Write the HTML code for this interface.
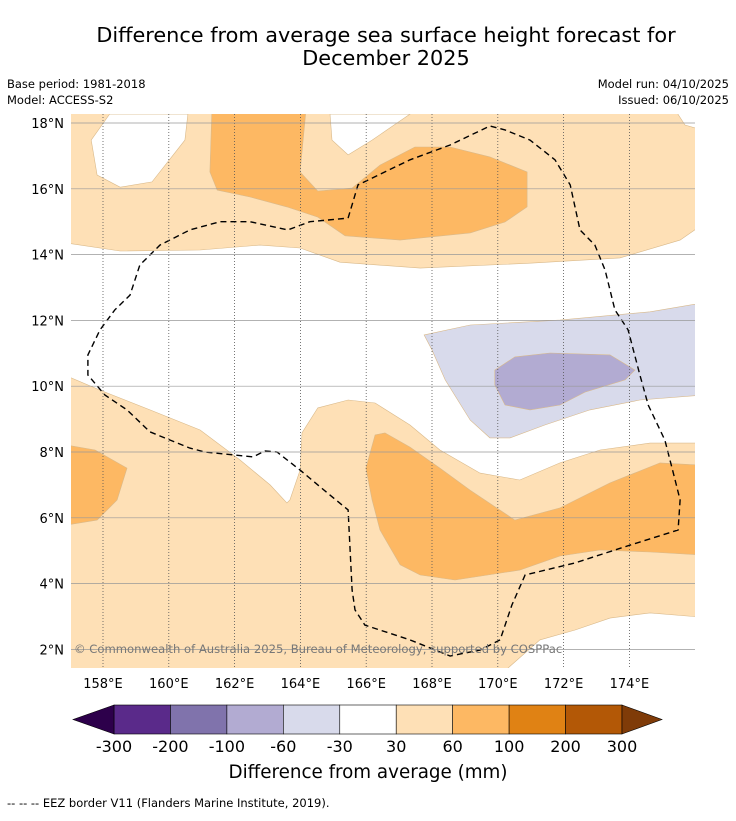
<!DOCTYPE html>
<html><head><meta charset="utf-8"><style>
body{margin:0;background:#fff;font-family:"Liberation Sans","DejaVu Sans",sans-serif;}
svg text{font-family:"DejaVu Sans","Liberation Sans",sans-serif;}
</style></head><body>
<svg id="chart" width="736" height="816" viewBox="0 0 736 816" xmlns="http://www.w3.org/2000/svg">
<rect width="736" height="816" fill="#fff"/>
<text x="386" y="42" font-size="20.8" text-anchor="middle">Difference from average sea surface height forecast for</text>
<text x="386" y="65" font-size="20.8" text-anchor="middle">December 2025</text>
<text x="7" y="88" font-size="11.5">Base period: 1981-2018</text>
<text x="7" y="104" font-size="11.5">Model: ACCESS-S2</text>
<text x="729" y="88" font-size="11.5" text-anchor="end">Model run: 04/10/2025</text>
<text x="729" y="104" font-size="11.5" text-anchor="end">Issued: 06/10/2025</text>
<defs><clipPath id="mapclip"><rect x="71" y="114" width="624" height="554"/></clipPath></defs>
<g id="map" clip-path="url(#mapclip)"></g>
<g id="grid"></g>
<g id="axes"></g>
<text x="74" y="653" font-size="11.6" fill="#777">© Commonwealth of Australia 2025, Bureau of Meteorology, supported by COSPPac</text>
<g id="cbar"></g>
<text x="368" y="778" font-size="18.3" text-anchor="middle">Difference from average (mm)</text>
<text x="7" y="807" font-size="11.5">--  --  -- EEZ border V11 (Flanders Marine Institute, 2019).</text>
</svg>
<script>
const NS="http://www.w3.org/2000/svg";
const lonTicks=[158,160,162,164,166,168,170,172,174];
const latTicks=[2,4,6,8,10,12,14,16,18];
const cbLevels=[-300,-200,-100,-60,-30,30,60,100,200,300];
const cbColors=["#5a2a8a","#8073ac","#b2abd2","#d8daeb","#ffffff","#fee0b6","#fdb863","#e08214","#b35806"];
const white1Lon=[158.2,157.64,157.82,158.52,159.49,160.49,160.58];
const white1Lat=[18.27,17.48,16.42,16.05,16.21,17.48,18.27];
const white2Lon=[164.9,164.96,165.45,166.18,167.33];
const white2Lat=[18.27,17.48,17.03,17.48,18.27];
const white3Lon=[175.39,176.2,176.2,175.69];
const white3Lat=[18.4,18.4,17.79,17.94];
const whiteMidLon=[156.9,158.52,160.95,162.77,163.99,165.2,167.64,170.98,173.71,175.54,176.2,176.2,174.63,173.11,171.89,170.67,169.46,168.24,167.33,166.27,165.45,164.53,164.05,163.99,163.68,163.59,163.08,162.16,160.95,159.43,157.91,156.9];
const whiteMidLat=[14.35,14.11,14.14,14.29,14.2,13.77,13.59,13.74,13.9,14.44,14.9,8.27,8.27,8.06,7.67,7.15,7.36,8.06,8.82,9.49,9.58,9.34,8.58,7.45,6.54,6.45,7.0,7.76,8.67,9.28,9.88,10.31];
const whiteBotLon=[170.16,171.28,172.35,173.41,174.63,176.2,176.2];
const whiteBotLat=[1.3,2.29,2.59,2.95,3.11,2.98,1.3];
const darkTopLon=[161.31,164.17,163.99,164.53,165.57,166.42,167.48,168.55,169.76,170.89,170.89,170.22,169.16,167.03,165.36,164.53,163.59,162.47,161.47,161.25];
const darkTopLat=[18.4,18.4,16.51,15.93,16.02,16.72,17.27,17.27,16.97,16.51,15.45,14.99,14.66,14.44,14.57,15.14,15.45,15.75,15.96,16.51];
const darkLeftLon=[156.9,157.76,158.73,158.43,157.82,156.9];
const darkLeftLat=[8.21,8.06,7.51,6.54,5.93,5.78];
const darkRightLon=[166.27,166.57,167.33,168.24,169.16,170.52,171.89,173.41,174.93,176.2,176.2,174.63,173.11,171.89,170.67,168.7,167.64,167.03,166.42,166.18,165.99];
const darkRightLat=[8.52,8.58,8.15,7.51,6.84,5.93,6.3,7.06,7.67,7.6,4.87,4.96,5.02,4.84,4.41,4.11,4.26,4.57,5.63,6.54,7.51];
const lpLon=[167.76,169.16,171.89,174.63,176.2,176.2,174.32,172.8,171.43,170.37,169.76,169.16,168.4,168.0];
const lpLat=[11.56,11.86,12.01,12.26,12.53,9.73,9.58,9.28,8.82,8.43,8.43,8.97,10.19,11.1];
const mpLon=[169.91,170.52,171.59,173.41,174.17,173.87,172.65,171.89,170.98,170.22,169.91];
const mpLat=[10.49,10.89,11.01,10.95,10.49,10.19,9.82,9.43,9.28,9.43,10.04];
const eezLon=[165.45,165.75,167.33,168.55,169.76,170.22,170.98,171.74,172.2,172.5,172.95,173.26,173.56,173.96,174.32,174.57,175.08,175.39,175.54,175.48,174.02,172.35,170.83,170.43,170.07,169.46,168.55,167.33,165.96,165.66,165.57,165.45,164.9,163.99,163.29,162.92,162.56,161.1,160.64,159.43,158.73,158.06,157.54,157.54,157.91,158.36,158.82,159.12,159.73,160.64,161.56,162.47,163.62,164.29,165.45];
const eezLat=[15.11,16.12,16.88,17.33,17.91,17.79,17.48,16.88,16.12,14.75,14.29,13.53,12.32,11.71,10.34,9.43,8.36,7.15,6.54,5.63,5.17,4.63,4.26,3.35,2.29,1.98,1.8,2.29,2.74,3.2,3.81,6.24,6.69,7.45,8.0,8.03,7.85,8.0,8.12,8.61,9.28,9.73,10.34,10.95,11.71,12.32,12.77,13.68,14.29,14.75,15.0,15.0,14.75,15.0,15.11];
const X=lon=>103+(lon-158)*32.9;
const Y=lat=>123+(18-lat)*32.9;
const map=document.getElementById('map');
function poly(lons,lats,fill,name){
  const p=document.createElementNS(NS,'polygon');
  p.setAttribute('points',lons.map((l,i)=>X(l).toFixed(1)+','+Y(lats[i]).toFixed(1)).join(' '));
  p.setAttribute('fill',fill);
  p.setAttribute('stroke','#d9b98a');p.setAttribute('stroke-width','0.6');
  
  
  map.appendChild(p);
}
const bg=document.createElementNS(NS,'rect');
bg.setAttribute('x',71);bg.setAttribute('y',114);bg.setAttribute('width',624);bg.setAttribute('height',554);bg.setAttribute('fill','#fee0b6');


map.appendChild(bg);
poly(white1Lon,white1Lat,'#fff','neutral-region-nw');
poly(white2Lon,white2Lat,'#fff','neutral-region-n');
poly(white3Lon,white3Lat,'#fff','neutral-region-ne');
poly(whiteMidLon,whiteMidLat,'#fff','neutral-region-central');
poly(whiteBotLon,whiteBotLat,'#fff','neutral-region-se');
poly(darkTopLon,darkTopLat,'#fdb863','high-region-north');
poly(darkLeftLon,darkLeftLat,'#fdb863','high-region-west');
poly(darkRightLon,darkRightLat,'#fdb863','high-region-east');
poly(lpLon,lpLat,'#d8daeb','low-region-light');
poly(mpLon,mpLat,'#b2abd2','low-region-medium');
const eez=document.createElementNS(NS,'polyline');
eez.setAttribute('points',eezLon.map((l,i)=>X(l).toFixed(1)+','+Y(eezLat[i]).toFixed(1)).join(' '));
eez.setAttribute('fill','none');eez.setAttribute('stroke','#000');eez.setAttribute('stroke-width','1.4');eez.setAttribute('stroke-dasharray','6,4');


map.appendChild(eez);
const grid=document.getElementById('grid'),axes=document.getElementById('axes');
lonTicks.forEach(l=>{
  const ln=document.createElementNS(NS,'line');
  ln.setAttribute('x1',X(l));ln.setAttribute('x2',X(l));ln.setAttribute('y1',114);ln.setAttribute('y2',668);
  ln.setAttribute('stroke','#555');ln.setAttribute('stroke-width','0.8');ln.setAttribute('stroke-dasharray','1,2');
  
  
  grid.appendChild(ln);
  const t=document.createElementNS(NS,'text');
  t.setAttribute('x',X(l));t.setAttribute('y',688);t.setAttribute('font-size','13');t.setAttribute('text-anchor','middle');
  t.textContent=l+'°E';
  
  
  axes.appendChild(t);
});
latTicks.forEach(l=>{
  const ln=document.createElementNS(NS,'line');
  ln.setAttribute('x1',71);ln.setAttribute('x2',695);ln.setAttribute('y1',Y(l));ln.setAttribute('y2',Y(l));
  ln.setAttribute('stroke','#999');ln.setAttribute('stroke-width','0.7');
  
  
  grid.appendChild(ln);
  const t=document.createElementNS(NS,'text');
  t.setAttribute('x',64);t.setAttribute('y',Y(l)+5);t.setAttribute('font-size','13');t.setAttribute('text-anchor','end');
  t.textContent=l+'°N';
  
  
  axes.appendChild(t);
});
const cb=document.getElementById('cbar');
const cbX0=114,cbW=(622-114)/cbColors.length,cbY=705,cbH=29;
cbColors.forEach((c,i)=>{
  const r=document.createElementNS(NS,'rect');
  r.setAttribute('x',cbX0+i*cbW);r.setAttribute('y',cbY);r.setAttribute('width',cbW);r.setAttribute('height',cbH);
  r.setAttribute('fill',c);r.setAttribute('stroke','#000');r.setAttribute('stroke-width','0.6');
  
  
  cb.appendChild(r);
});
const tl=document.createElementNS(NS,'polygon');
tl.setAttribute('points',`73,${cbY+cbH/2} ${cbX0},${cbY} ${cbX0},${cbY+cbH}`);tl.setAttribute('fill','#2d004b');tl.setAttribute('stroke','#000');tl.setAttribute('stroke-width','0.6');


cb.appendChild(tl);
const tr=document.createElementNS(NS,'polygon');
tr.setAttribute('points',`622,${cbY} 662,${cbY+cbH/2} 622,${cbY+cbH}`);tr.setAttribute('fill','#7f3b08');tr.setAttribute('stroke','#000');tr.setAttribute('stroke-width','0.6');


cb.appendChild(tr);
cbLevels.forEach((v,i)=>{
  const t=document.createElementNS(NS,'text');
  t.setAttribute('x',cbX0+i*cbW);t.setAttribute('y',752);t.setAttribute('font-size','16');t.setAttribute('text-anchor','middle');
  t.textContent=v;
  
  
  cb.appendChild(t);
});
</script>
</body></html>
